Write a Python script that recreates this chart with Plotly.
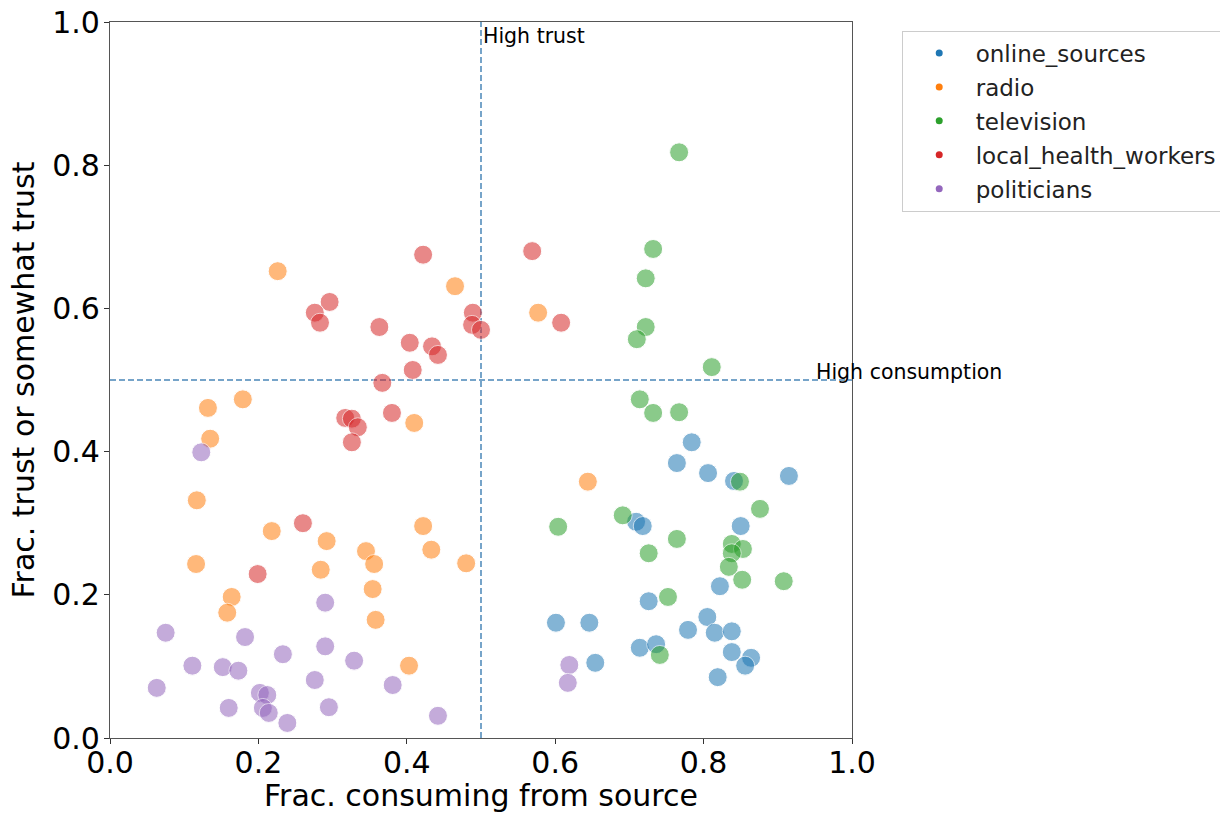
import plotly.graph_objects as go

# ---- data ----
categories = ["online_sources", "radio", "television", "local_health_workers", "politicians"]
colors = ["#1f77b4", "#ff7f0e", "#2ca02c", "#d62728", "#9467bd"]

online_x = [0.784, 0.764, 0.806, 0.841, 0.915, 0.850, 0.709, 0.718, 0.822, 0.726, 0.601, 0.646,
            0.805, 0.779, 0.815, 0.838, 0.714, 0.736, 0.838, 0.864, 0.856, 0.654, 0.819]
online_y = [0.413, 0.384, 0.370, 0.359, 0.366, 0.296, 0.302, 0.296, 0.212, 0.191, 0.161, 0.161,
            0.169, 0.151, 0.147, 0.149, 0.126, 0.131, 0.120, 0.112, 0.101, 0.105, 0.085]

radio_x = [0.226, 0.465, 0.577, 0.179, 0.132, 0.135, 0.410, 0.644, 0.117, 0.218, 0.292, 0.422,
           0.433, 0.480, 0.345, 0.356, 0.284, 0.116, 0.354, 0.164, 0.158, 0.358, 0.403]
radio_y = [0.652, 0.631, 0.594, 0.473, 0.461, 0.418, 0.440, 0.358, 0.332, 0.289, 0.275, 0.296,
           0.263, 0.244, 0.261, 0.243, 0.235, 0.243, 0.208, 0.197, 0.175, 0.165, 0.101]

tv_x = [0.767, 0.732, 0.722, 0.722, 0.710, 0.811, 0.714, 0.732, 0.767, 0.849, 0.876, 0.604,
        0.691, 0.764, 0.726, 0.838, 0.853, 0.838, 0.834, 0.852, 0.908, 0.752, 0.741]
tv_y = [0.818, 0.683, 0.642, 0.574, 0.557, 0.518, 0.473, 0.454, 0.455, 0.358, 0.320, 0.295,
        0.311, 0.278, 0.258, 0.271, 0.264, 0.258, 0.239, 0.221, 0.219, 0.197, 0.116]

lhw_x = [0.422, 0.296, 0.276, 0.283, 0.363, 0.404, 0.434, 0.442, 0.408, 0.367, 0.489, 0.488,
         0.500, 0.380, 0.317, 0.326, 0.334, 0.326, 0.569, 0.608, 0.260, 0.199]
lhw_y = [0.675, 0.609, 0.594, 0.580, 0.574, 0.552, 0.547, 0.535, 0.514, 0.496, 0.594, 0.577,
         0.570, 0.454, 0.447, 0.446, 0.434, 0.413, 0.680, 0.580, 0.300, 0.229]

pol_x = [0.123, 0.290, 0.075, 0.182, 0.233, 0.290, 0.329, 0.111, 0.152, 0.173, 0.063, 0.276,
         0.381, 0.202, 0.212, 0.160, 0.206, 0.214, 0.295, 0.239, 0.442, 0.619, 0.617]
pol_y = [0.399, 0.189, 0.147, 0.141, 0.117, 0.128, 0.108, 0.101, 0.099, 0.094, 0.070, 0.081,
         0.074, 0.063, 0.060, 0.042, 0.042, 0.035, 0.043, 0.021, 0.031, 0.102, 0.077]

xs = [online_x, radio_x, tv_x, lhw_x, pol_x]
ys = [online_y, radio_y, tv_y, lhw_y, pol_y]

tick_vals = [0.0, 0.2, 0.4, 0.6, 0.8, 1.0]
tick_text = ["0.0", "0.2", "0.4", "0.6", "0.8", "1.0"]
threshold = 0.5

FONT = "DejaVu Sans"

fig = go.Figure()

# reference lines
line_style = dict(color="#4a86b8", width=1.5, dash="6px,3px")
fig.add_trace(go.Scatter(x=[threshold, threshold], y=[0, 1], mode="lines", line=line_style,
                         showlegend=False, hoverinfo="skip"))
fig.add_trace(go.Scatter(x=[0, 1], y=[threshold, threshold], mode="lines", line=line_style,
                         showlegend=False, hoverinfo="skip"))

for name, c, x, y in zip(categories, colors, xs, ys):
    fig.add_trace(go.Scatter(
        x=x, y=y, mode="markers", name=name, showlegend=False,
        marker=dict(size=19, color=c, opacity=0.55, line=dict(color="white", width=1)),
    ))

# legend-only entries with small dots
for i, (name, c) in enumerate(zip(categories, colors)):
    fig.add_trace(go.Scatter(
        x=[None], y=[None], mode="markers", name=name, legendgroup=f"g{i}",
        marker=dict(size=7, color=c),
    ))

fig.add_annotation(x=threshold, y=0.98, xref="x", yref="y", text="High trust",
                   showarrow=False, xanchor="left", yanchor="middle",
                   font=dict(family=FONT, size=20.5, color="black"))
fig.add_annotation(x=0.949, y=0.511, xref="x", yref="y", text="High consumption",
                   showarrow=False, xanchor="left", yanchor="middle",
                   font=dict(family=FONT, size=20.5, color="black"))

axis_common = dict(
    range=[0, 1], tickvals=tick_vals, ticktext=tick_text,
    showgrid=False, zeroline=False, showline=True, mirror=True,
    linecolor="#555555", linewidth=1.2,
    ticks="outside", ticklen=5, tickcolor="#333333",
    ticklabeloverflow="allow",
    tickfont=dict(family=FONT, size=30, color="black"),
)

fig.update_layout(
    width=1220, height=813,
    margin=dict(l=110, r=368, t=22, b=75, autoexpand=False),
    paper_bgcolor="white", plot_bgcolor="white",
    font=dict(family=FONT, color="black"),
    xaxis=dict(**axis_common, ticklabelstandoff=-7,
               title=dict(text="Frac. consuming from source",
                          font=dict(family=FONT, size=30, color="black"), standoff=0)),
    yaxis=dict(**axis_common, ticklabelstandoff=-2,
               title=dict(text="Frac. trust or somewhat trust",
                          font=dict(family=FONT, size=30, color="black"), standoff=8)),
    legend=dict(x=1.067, y=0.988, xanchor="left", yanchor="top",
                font=dict(family=FONT, size=23, color="#222222"),
                bordercolor="#cccccc", borderwidth=1, bgcolor="white",
                itemwidth=63,
                traceorder="grouped", tracegroupgap=1),
    showlegend=True,
)

fig.write_html(
    "out.html",
    config={"displayModeBar": False},
    post_script="document.body.style.margin='0';document.body.style.overflow='hidden';",
)
